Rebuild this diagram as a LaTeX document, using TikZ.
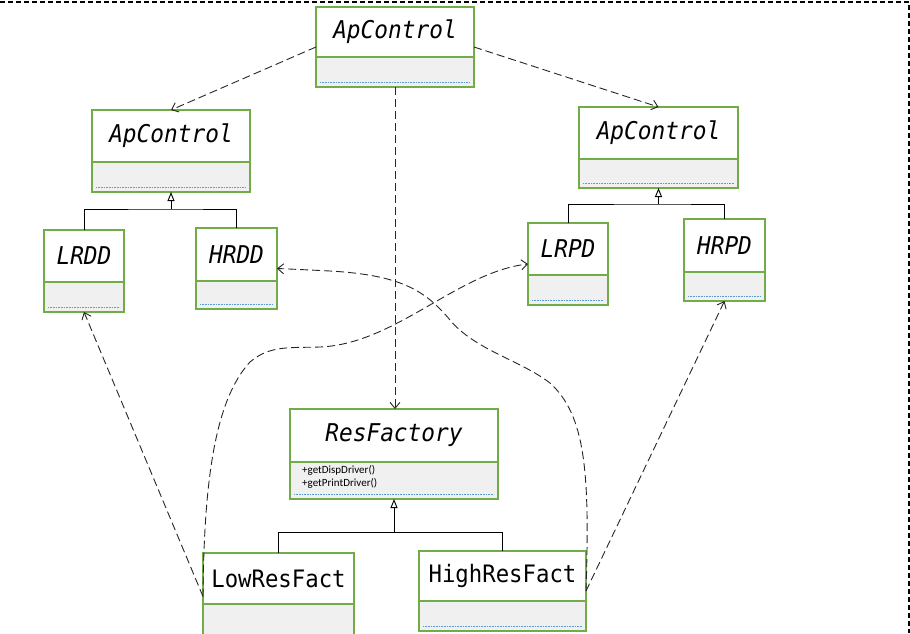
\documentclass[tikz,border=0pt]{standalone}
\usepackage{fontspec}
\setmainfont{DejaVu Sans}
\newfontfamily\classfont{DejaVu Sans Mono}[FakeStretch=0.93]
\newfontfamily\methfont{Carlito}
\usetikzlibrary{arrows.meta,calc}
\definecolor{boxgreen}{HTML}{70AD47}
\definecolor{compgray}{HTML}{F0F0F0}
\definecolor{dotblue}{HTML}{5B9BD5}
\tikzset{
  classbox/.style={draw=boxgreen, line width=1.1pt, inner sep=0pt, outer sep=0pt},
  boxline/.style={draw=boxgreen, line width=1.1pt},
  dotline/.style={draw=dotblue, line width=0.7pt, dash pattern=on 1pt off 0.6pt},
  titletext/.style={font=\classfont\fontsize{24.5}{24.5}\selectfont\itshape, inner sep=0pt},
  plaintitle/.style={font=\classfont\fontsize{24}{24}\selectfont, inner sep=0pt},
  dep/.style={draw=black!85, line width=0.9pt, dash pattern=on 8pt off 4pt,
    -{Straight Barb[length=6pt,width=10pt,line width=0.9pt]}},
  inh/.style={draw=black, line width=0.9pt, -{Triangle[open,length=9pt,width=7pt,line width=0.9pt]}},
  gen/.style={draw=black, line width=0.9pt},
  pageborder/.style={draw=black, line width=1.4pt, dash pattern=on 5pt off 3pt}
}
% name, x1, y1, x2, y2, ydiv, title, title style
\newcommand\umlclass[8]{%
  \fill[compgray] (#2,-#6) rectangle (#4,-#5);
  \draw[dotline] ({#2+4},{-#5+5}) -- ({#4-4},{-#5+5});
  \node[classbox, anchor=north west, minimum width={#4-#2}, minimum height={#5-#3}] (#1) at (#2,-#3) {};
  \draw[boxline] (#2,-#6) -- (#4,-#6);
  \node[#8] (#1-title) at ({(#2+#4)/2},{-(#3+#6)/2}) {#7};
}
\begin{document}
\begin{tikzpicture}[x=1pt,y=1pt]
\useasboundingbox (0,0) rectangle (910,-633);
\draw[pageborder] (0,-2) -- (909,-2) -- (909,-633);

\umlclass{top}{316}{7}{474}{87}{57}{ApControl}{titletext}
\umlclass{lapc}{92}{110}{250}{192}{162}{ApControl}{titletext}
\umlclass{rapc}{579}{107}{738}{188}{159}{ApControl}{titletext}
\umlclass{lrdd}{44}{230}{124}{312}{282}{LRDD}{titletext}
\umlclass{hrdd}{196}{228}{277}{309}{281}{HRDD}{titletext}
\umlclass{lrpd}{528}{223}{608}{305}{275}{LRPD}{titletext}
\umlclass{hrpd}{684}{219}{765}{301}{272}{HRPD}{titletext}
\umlclass{resf}{290}{409}{498}{499}{462}{ResFactory}{titletext}
\umlclass{low}{203}{553}{354}{640}{604}{LowResFact}{plaintitle}
\umlclass{high}{419}{551}{586}{631}{601}{HighResFact}{plaintitle}

\node[font=\methfont\fontsize{11}{13.5}\selectfont, anchor=north west, inner sep=0pt, align=left]
  (resf-ops) at (302,-465) {+getDispDriver()\\+getPrintDriver()};

% generalisation
\coordinate (j1) at ($(lapc.south)+(0,-17)$);
\draw[gen] (lrdd.north) |- (j1) -| (hrdd.north);
\draw[inh] (j1) -- (lapc.south);
\coordinate (j2) at ($(rapc.south)+(0,-16)$);
\draw[gen] (lrpd.north) |- (j2) -| (hrpd.north);
\draw[inh] (j2) -- (rapc.south);
\coordinate (j3) at ($(resf.south)+(0,-33)$);
\draw[gen] (low.north) |- (j3) -| (high.north);
\draw[inh] (j3) -- (resf.south);

% dependencies
\draw[dep] (top.west) -- (lapc.north);
\draw[dep] (top.east) -- (rapc.north);
\draw[dep] (top.south) -- (top.south |- resf.north);
\draw[dep] (low.west) -- (lrdd.south);
\draw[dep] (high.east) -- (hrpd.south);
\draw[dep] (low.west) .. controls (204,-480) and (215,-400) .. (250,-362)
  .. controls (270,-345) and (290,-348) .. (320,-347)
  .. controls (395,-344) and (458,-272) .. (lrpd.west);
\draw[dep] (high.east) .. controls (590,-470) and (585,-415) .. (550,-383)
  .. controls (520,-360) and (475,-350) .. (450,-320)
  .. controls (425,-290) and (400,-275) .. (330,-271)
  .. controls (310,-270) and (290,-269) .. (hrdd.east);
\end{tikzpicture}
\end{document}
